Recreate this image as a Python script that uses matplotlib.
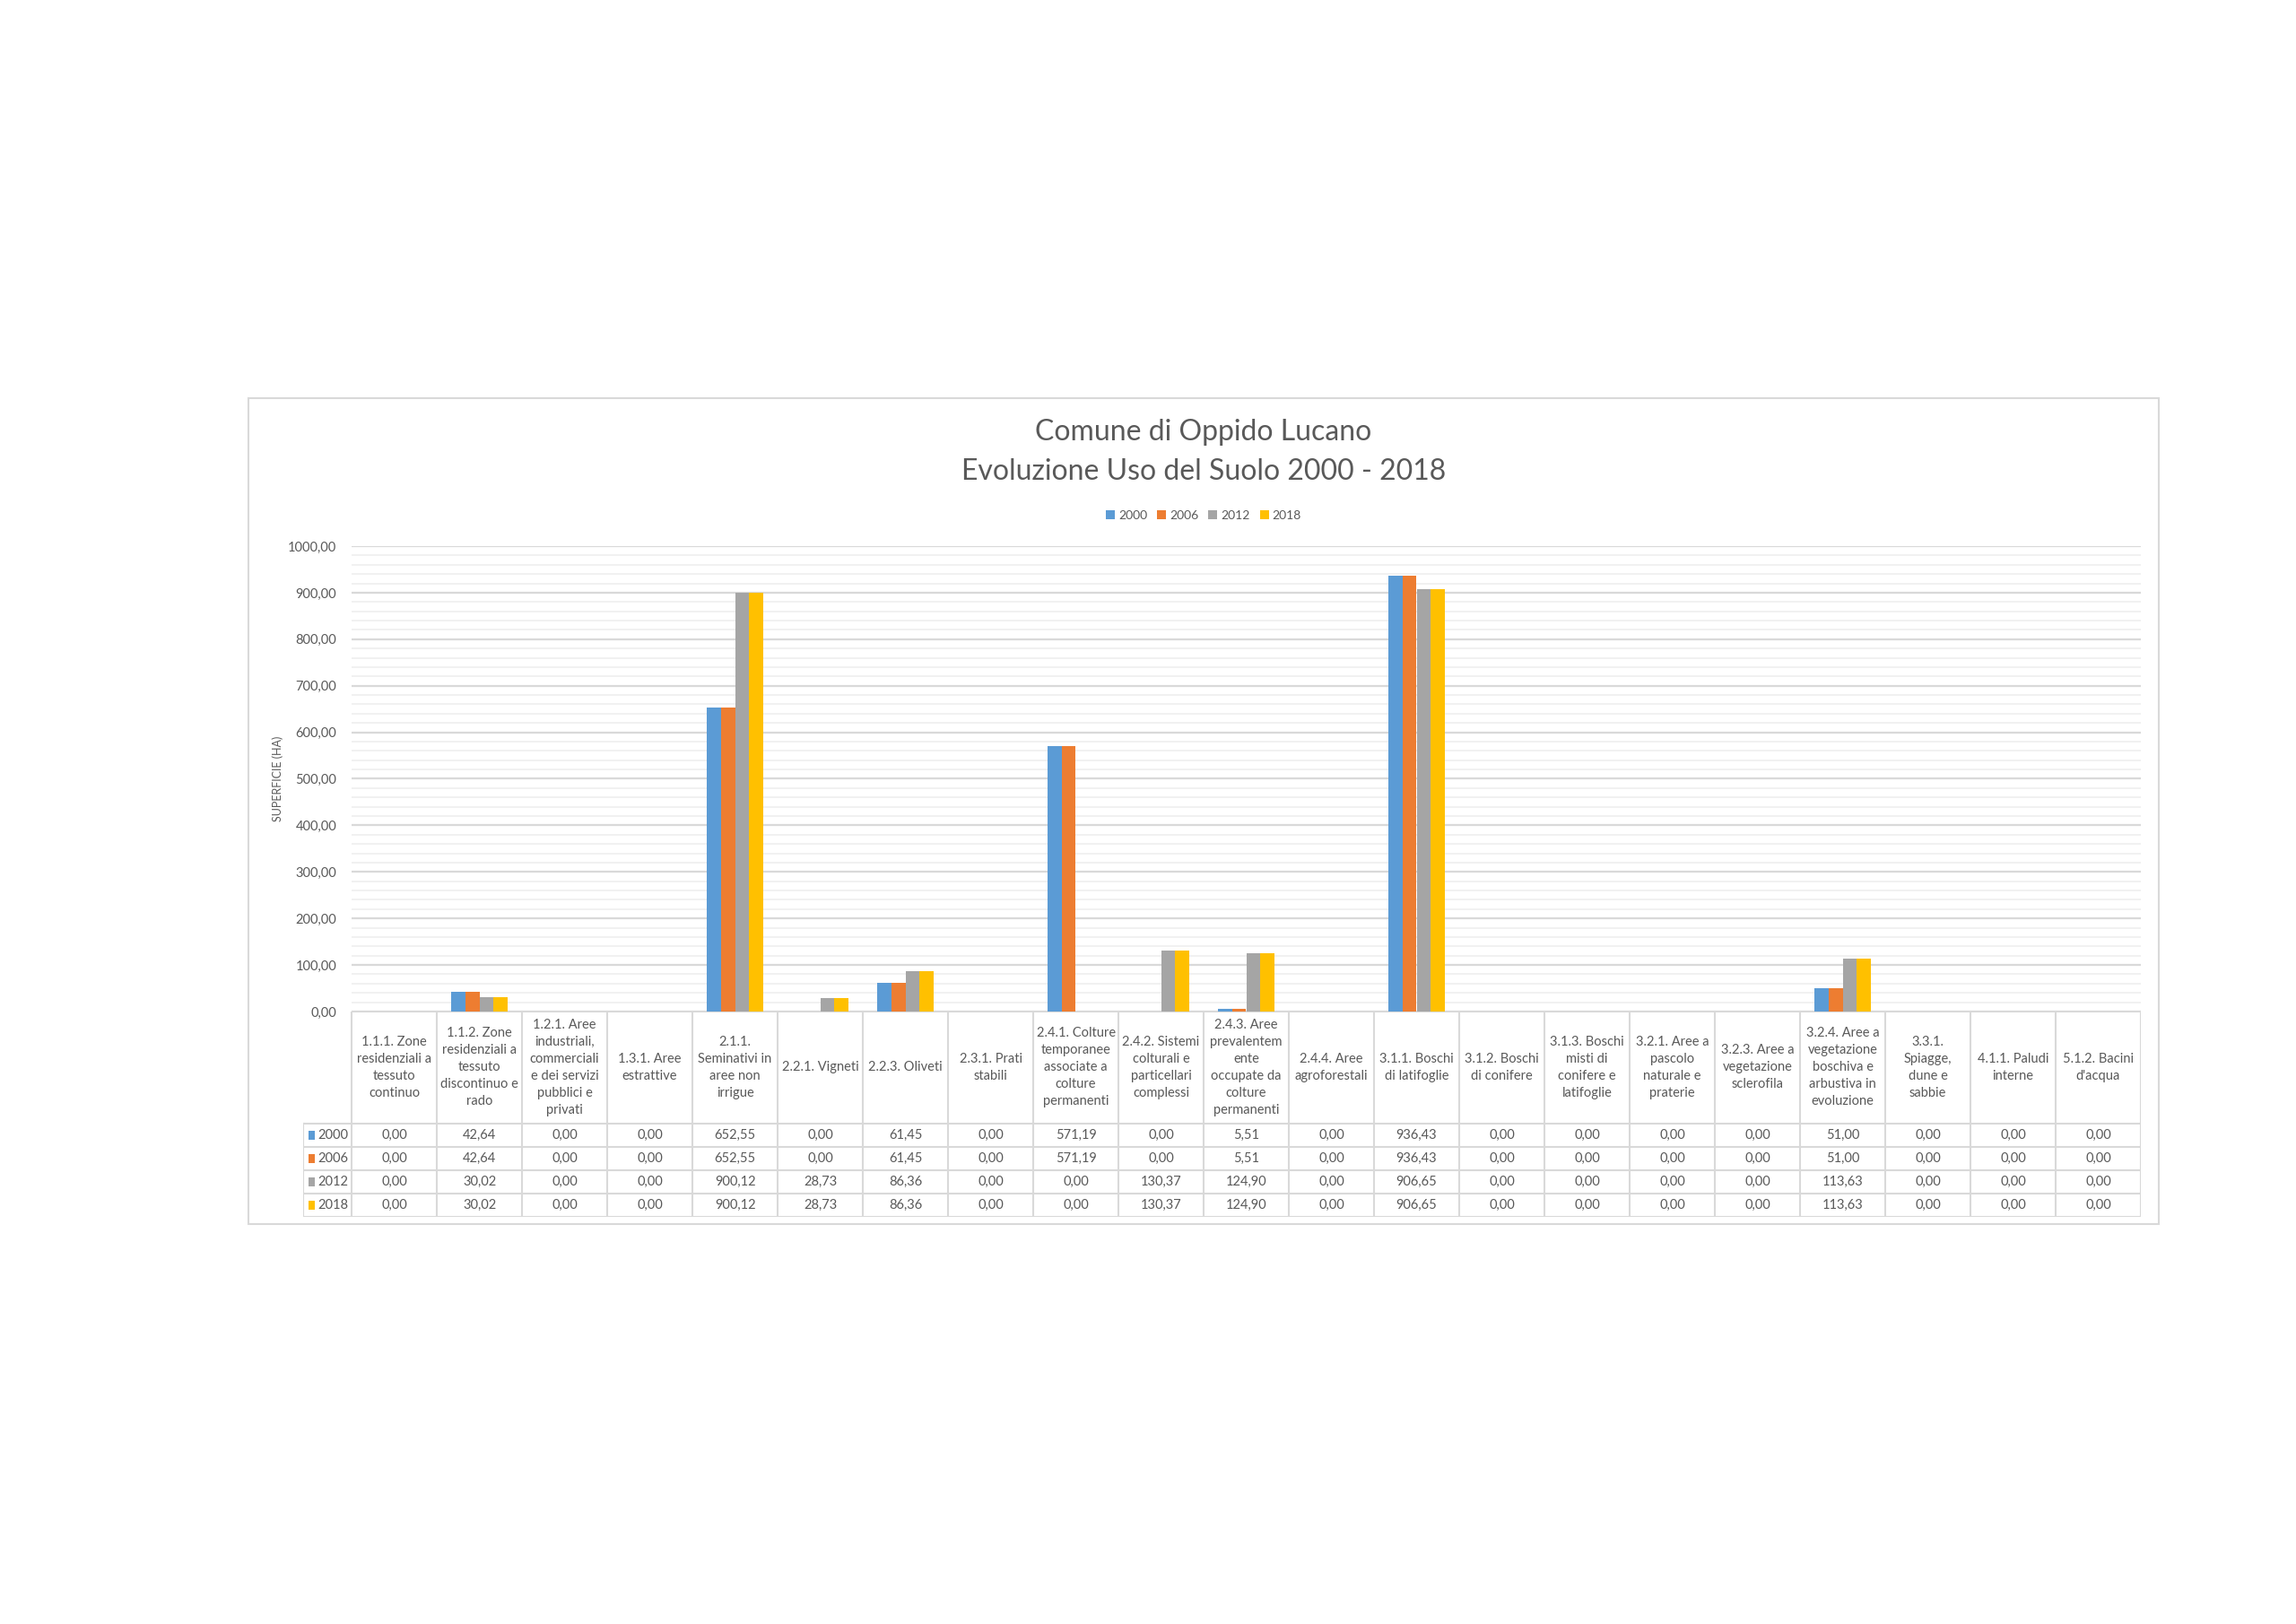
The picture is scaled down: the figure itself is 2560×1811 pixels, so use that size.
# Comune di Oppido Lucano - land use evolution 2000-2018 (bar chart + data table)
import matplotlib
matplotlib.use("Agg")
import matplotlib.pyplot as plt
from matplotlib.patches import Patch, Rectangle
from matplotlib.ticker import MultipleLocator, FuncFormatter

plt.rcParams['font.family'] = ['Liberation Sans Narrow', 'Lato', 'DejaVu Sans']

# data
categories = [
    "1.1.1. Zone\nresidenziali a\ntessuto\ncontinuo",
    "1.1.2. Zone\nresidenziali a\ntessuto\ndiscontinuo e\nrado",
    "1.2.1. Aree\nindustriali,\ncommerciali\ne dei servizi\npubblici e\nprivati",
    "1.3.1. Aree\nestrattive",
    "2.1.1.\nSeminativi in\naree non\nirrigue",
    "2.2.1. Vigneti",
    "2.2.3. Oliveti",
    "2.3.1. Prati\nstabili",
    "2.4.1. Colture\ntemporanee\nassociate a\ncolture\npermanenti",
    "2.4.2. Sistemi\ncolturali e\nparticellari\ncomplessi",
    "2.4.3. Aree\nprevalentem\nente\noccupate da\ncolture\npermanenti",
    "2.4.4. Aree\nagroforestali",
    "3.1.1. Boschi\ndi latifoglie",
    "3.1.2. Boschi\ndi conifere",
    "3.1.3. Boschi\nmisti di\nconifere e\nlatifoglie",
    "3.2.1. Aree a\npascolo\nnaturale e\npraterie",
    "3.2.3. Aree a\nvegetazione\nsclerofila",
    "3.2.4. Aree a\nvegetazione\nboschiva e\narbustiva in\nevoluzione",
    "3.3.1.\nSpiagge,\ndune e\nsabbie",
    "4.1.1. Paludi\ninterne",
    "5.1.2. Bacini\nd'acqua",
]
years = ["2000", "2006", "2012", "2018"]
v2000 = [0.00, 42.64, 0.00, 0.00, 652.55, 0.00, 61.45, 0.00, 571.19, 0.00, 5.51,
         0.00, 936.43, 0.00, 0.00, 0.00, 0.00, 51.00, 0.00, 0.00, 0.00]
v2006 = [0.00, 42.64, 0.00, 0.00, 652.55, 0.00, 61.45, 0.00, 571.19, 0.00, 5.51,
         0.00, 936.43, 0.00, 0.00, 0.00, 0.00, 51.00, 0.00, 0.00, 0.00]
v2012 = [0.00, 30.02, 0.00, 0.00, 900.12, 28.73, 86.36, 0.00, 0.00, 130.37, 124.90,
         0.00, 906.65, 0.00, 0.00, 0.00, 0.00, 113.63, 0.00, 0.00, 0.00]
v2018 = [0.00, 30.02, 0.00, 0.00, 900.12, 28.73, 86.36, 0.00, 0.00, 130.37, 124.90,
         0.00, 906.65, 0.00, 0.00, 0.00, 0.00, 113.63, 0.00, 0.00, 0.00]
series = [v2000, v2006, v2012, v2018]
colors = ['#5B9BD5', '#ED7D31', '#A5A5A5', '#FFC000']

txt = '#595959'
grid_major = '#D9D9D9'
grid_minor = '#EFEFEF'

def fmt(v):
    return f"{v:.2f}".replace('.', ',')

W, H = 2560, 1811
fig = plt.figure(figsize=(W / 100, H / 100), dpi=100)

# chart area border
fig.patches.append(Rectangle((277 / W, 1 - 1365 / H), (2407 - 277) / W, (1365 - 444) / H,
                             transform=fig.transFigure, fill=False,
                             edgecolor='#D9D9D9', linewidth=1.5))

# titles
fig.text(1342 / W, 1 - 482 / H, "Comune di Oppido Lucano", ha='center', va='center',
         fontsize=23, color=txt, family=['Lato', 'DejaVu Sans'])
fig.text(1342 / W, 1 - 526 / H, "Evoluzione Uso del Suolo 2000 - 2018", ha='center', va='center',
         fontsize=23, color=txt, family=['Lato', 'DejaVu Sans'])

# bars
n = len(categories)
ax = fig.add_axes([392 / W, 1 - 1128 / H, (2387 - 392) / W, (1128 - 609) / H])
bw = 1 / 6
for k, vals in enumerate(series):
    xs = [i + 0.5 + (k - 1.5) * bw for i in range(n)]
    ax.bar(xs, vals, width=bw, color=colors[k], label=years[k], zorder=3)

ax.set_xlim(0, n)
ax.set_ylim(0, 1000)
ax.yaxis.set_major_locator(MultipleLocator(100))
ax.yaxis.set_minor_locator(MultipleLocator(20))
ax.yaxis.set_major_formatter(FuncFormatter(lambda v, p: fmt(v)))
ax.grid(axis='y', which='major', color=grid_major, linewidth=1.6, zorder=0)
ax.grid(axis='y', which='minor', color=grid_minor, linewidth=1.2, zorder=0)
ax.set_xticks([])
ax.tick_params(axis='y', which='both', length=0, labelsize=10.5, labelcolor=txt, pad=12)
for s in ax.spines.values():
    s.set_visible(False)
ax.set_ylabel("SUPERFICIE (HA)", fontsize=9, color=txt, labelpad=4)

# legend
handles = [Patch(facecolor=c, edgecolor='none') for c in colors]
fig.legend(handles, years, loc='center', bbox_to_anchor=(1342 / W, 1 - 575 / H), ncol=4,
           frameon=False, fontsize=10, handlelength=0.7, handleheight=0.7,
           handletextpad=0.3, columnspacing=0.8, labelcolor=txt)

# data table
tx0 = -0.57
hdr = 124
rowh = 26
tab = fig.add_axes([338 / W, 1 - 1357 / H, (2387 - 338) / W, (1357 - 1128) / H])
tab.set_xlim(tx0, n)
tab.set_ylim(hdr + 4 * rowh, 0)
tab.axis('off')
lc = '#D9D9D9'
lw = 1.5
# horizontal lines
tab.plot([0, n], [0, 0], color=lc, lw=lw)
for r in range(5):
    y = hdr + r * rowh
    tab.plot([tx0, n], [y, y], color=lc, lw=lw)
# vertical lines
tab.plot([tx0, tx0], [hdr, hdr + 4 * rowh], color=lc, lw=lw)
for i in range(n + 1):
    tab.plot([i, i], [0, hdr + 4 * rowh], color=lc, lw=lw)

for i, lab in enumerate(categories):
    tab.text(i + 0.5, hdr / 2, lab, ha='center', va='center', fontsize=10.5,
             color=txt, linespacing=1.45)
for r, vals in enumerate(series):
    yc = hdr + (r + 0.5) * rowh
    tab.add_patch(Rectangle((tx0 + 0.06, yc - 5), 0.08, 10, facecolor=colors[r],
                            edgecolor='none'))
    tab.text(tx0 + 0.17, yc, years[r], ha='left', va='center', fontsize=10.5, color=txt)
    for i, v in enumerate(vals):
        tab.text(i + 0.5, yc, fmt(v), ha='center', va='center', fontsize=10.5, color=txt)

fig.savefig("out.png", dpi=100, facecolor='white')
